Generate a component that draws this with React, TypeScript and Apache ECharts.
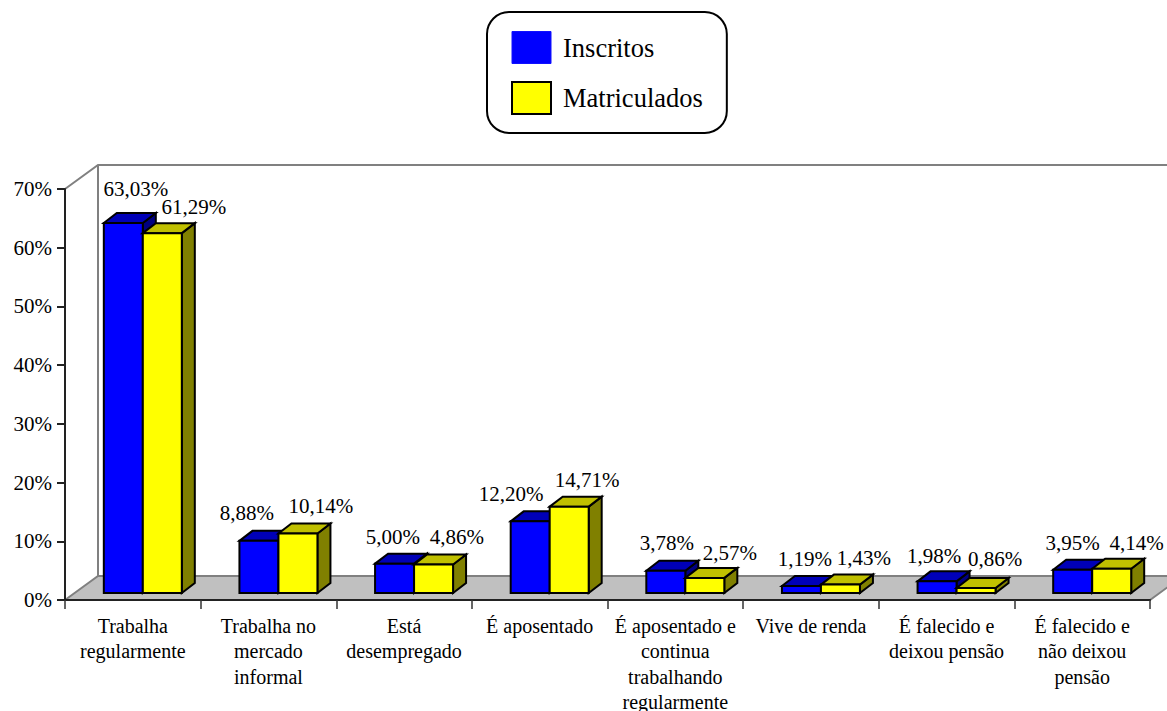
import React, { useEffect, useRef } from "react";
import * as echarts from "echarts";

const categories = [
  "Trabalha\nregularmente",
  "Trabalha no\nmercado\ninformal",
  "Está\ndesempregado",
  "É aposentado",
  "É aposentado e\ncontinua\ntrabalhando\nregularmente",
  "Vive de renda",
  "É falecido e\ndeixou pensão",
  "É falecido e\nnão deixou\npensão",
];
const inscritos = [63.03, 8.88, 5.0, 12.2, 3.78, 1.19, 1.98, 3.95];
const matriculados = [61.29, 10.14, 4.86, 14.71, 2.57, 1.43, 0.86, 4.14];

// Label offsets (from the top-centre of the front face of the bar)
const inscritosNudge = [[12.5, -34], [-12, -28], [-1.7, -26.6], [-19, -27.4], [1, -27.8], [3.5, -27], [-3, -25.4], [0, -27]];
const matriculadosNudge = [[31.5, -26], [23, -27.5], [23.3, -27.5], [18, -26.7], [25, -25], [23.5, -26.6], [19, -29], [25, -25.7]];

const SERIF = '"Liberation Serif", "Times New Roman", serif';
const WALL_DX = 33;
const WALL_DY = 24;
const BAR_W = 39;
const BAR_INSET_X = 10;
const BAR_INSET_Y = 7;
const DEPTH_X = 13;
const DEPTH_Y = 10;

const fmt = (v: number) => v.toFixed(2).replace(".", ",") + "%";

function barRenderer(
  offsetIndex: number,
  front: string,
  top: string,
  side: string,
  nudges: number[][]
) {
  return (params: any, api: any) => {
    const i = api.value(0);
    const v = api.value(1);
    const c0 = api.coord([i, 0]);
    const c1 = api.coord([i, v]);
    const x = c0[0] - BAR_W + offsetIndex * BAR_W + BAR_INSET_X;
    const yb = c0[1] - BAR_INSET_Y;
    const yt = c1[1] - BAR_INSET_Y;
    const edge = { stroke: "#000", lineWidth: 2, lineJoin: "miter" };
    const n = nudges[params.dataIndex];
    return {
      type: "group",
      children: [
        {
          type: "polygon",
          shape: { points: [[x + BAR_W, yb], [x + BAR_W + DEPTH_X, yb - DEPTH_Y], [x + BAR_W + DEPTH_X, yt - DEPTH_Y], [x + BAR_W, yt]] },
          style: { fill: side, ...edge },
        },
        {
          type: "polygon",
          shape: { points: [[x, yt], [x + DEPTH_X, yt - DEPTH_Y], [x + BAR_W + DEPTH_X, yt - DEPTH_Y], [x + BAR_W, yt]] },
          style: { fill: top, ...edge },
        },
        {
          type: "rect",
          shape: { x, y: yt, width: BAR_W, height: yb - yt },
          style: { fill: front, ...edge },
        },
        {
          type: "text",
          style: {
            text: fmt(v),
            x: x + BAR_W / 2 + n[0],
            y: yt + n[1],
            align: "center",
            verticalAlign: "middle",
            font: `21px ${SERIF}`,
            fill: "#000",
          },
        },
      ],
    };
  };
}

function frameRenderer(_params: any, api: any) {
  const band = api.size([1, 0])[0];
  const o = api.coord([0, 0]);
  const left = o[0] - band / 2;
  const bottom = o[1];
  const right = left + band * categories.length;
  const top = api.coord([0, 70])[1];
  const gray = { stroke: "#808080", lineWidth: 2 };
  return {
    type: "group",
    children: [
      {
        type: "polygon",
        shape: { points: [[left, bottom], [left + WALL_DX, bottom - WALL_DY], [right + WALL_DX, bottom - WALL_DY], [right, bottom]] },
        style: { fill: "#C0C0C0", ...gray },
      },
      {
        type: "polyline",
        shape: { points: [[left, top], [left + WALL_DX, top - WALL_DY], [right + WALL_DX, top - WALL_DY]] },
        style: { fill: "none", ...gray },
      },
      {
        type: "line",
        shape: { x1: left + WALL_DX, y1: top - WALL_DY, x2: left + WALL_DX, y2: bottom - WALL_DY },
        style: gray,
      },
    ],
  };
}

export default function App() {
  const ref = useRef<HTMLDivElement>(null);
  useEffect(() => {
    document.body.style.margin = "0";
    const chart = echarts.init(ref.current!, undefined, { renderer: "svg" });
    chart.setOption({
      animation: false,
      backgroundColor: "#fff",
      legend: {
        left: 487,
        top: 12,
        orient: "vertical",
        padding: [19, 24, 18, 24],
        itemWidth: 39,
        itemHeight: 32,
        itemGap: 17,
        borderColor: "#000",
        borderWidth: 2,
        borderRadius: 22,
        backgroundColor: "#fff",
        selectedMode: false,
        textStyle: { fontFamily: SERIF, fontSize: 26.5, lineHeight: 30, color: "#000", padding: [0, 0, 0, 7] },
        data: [
          { name: "Inscritos", icon: "rect", itemStyle: { color: "#0000FF", borderColor: "#1010FF", borderWidth: 1 } },
          { name: "Matriculados", icon: "rect", itemStyle: { color: "#FFFF00", borderColor: "#000", borderWidth: 2 } },
        ],
      },
      grid: { left: 65, right: 17, top: 189, bottom: 111, outerBoundsMode: "none" },
      xAxis: {
        type: "category",
        data: categories,
        z: 5,
        axisLine: { lineStyle: { color: "#222", width: 2 } },
        axisTick: { show: true, alignWithLabel: false, length: 9, lineStyle: { color: "#333", width: 1.5 } },
        axisLabel: {
          interval: 0,
          margin: 13,
          fontFamily: SERIF,
          fontSize: 20,
          lineHeight: 25.5,
          color: "#000",
          verticalAlign: "top",
        },
      },
      yAxis: {
        type: "value",
        min: 0,
        max: 70,
        interval: 10,
        z: 5,
        axisLine: { show: true, lineStyle: { color: "#222", width: 2 } },
        axisTick: { show: true, length: 8, lineStyle: { color: "#222", width: 2 } },
        splitLine: { show: false },
        axisLabel: {
          margin: 13,
          fontFamily: SERIF,
          fontSize: 21,
          color: "#000",
          formatter: "{value}%",
        },
      },
      series: [
        {
          type: "custom",
          name: "frame",
          silent: true,
          z: 1,
          renderItem: frameRenderer,
          data: [[0, 0]],
          encode: { x: 0, y: 1 },
        },
        {
          type: "custom",
          name: "Inscritos",
          z: 2,
          itemStyle: { color: "#0000FF" },
          renderItem: barRenderer(0, "#0000FF", "#0000B8", "#000080", inscritosNudge),
          data: inscritos.map((v, i) => [i, v]),
          encode: { x: 0, y: 1 },
        },
        {
          type: "custom",
          name: "Matriculados",
          z: 3,
          itemStyle: { color: "#FFFF00" },
          renderItem: barRenderer(1, "#FFFF00", "#C0C000", "#808000", matriculadosNudge),
          data: matriculados.map((v, i) => [i, v]),
          encode: { x: 0, y: 1 },
        },
      ],
    });
    return () => chart.dispose();
  }, []);
  return <div ref={ref} style={{ position: "absolute", left: 0, top: 0, width: 1167, height: 711 }} />;
}
